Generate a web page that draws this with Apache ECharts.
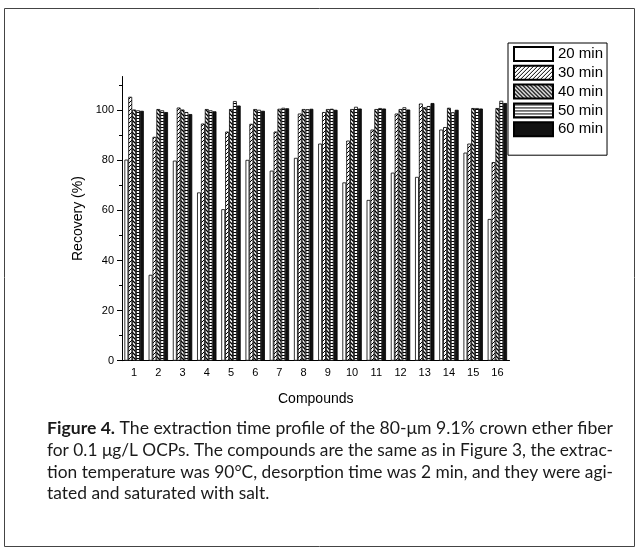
<!DOCTYPE html>
<html>
<head>
<meta charset="utf-8">
<script src="https://cdn.jsdelivr.net/npm/echarts@6/dist/echarts.min.js"></script>
<style>
html,body{margin:0;padding:0;background:#fff;}
#chart{width:639px;height:552px;}
</style>
</head>
<body>
<div id="chart"></div>
<script>
// ---- data ----
const compounds = ['1','2','3','4','5','6','7','8','9','10','11','12','13','14','15','16'];
const seriesNames = ['20 min','30 min','40 min','50 min','60 min'];
const t20 = [80.3, 34.3, 79.9, 67.2, 60.5, 80.2, 75.9, 81.0, 86.7, 71.2, 64.2, 75.1, 73.4, 92.3, 83.1, 56.6];
const t30 = [105.4, 89.4, 101.1, 94.7, 91.5, 94.6, 91.5, 98.7, 99.3, 87.9, 92.3, 98.7, 102.7, 93.3, 86.7, 79.3];
const t40 = [100.3, 100.5, 100.3, 100.5, 100.5, 100.5, 100.6, 100.5, 100.5, 100.5, 100.5, 100.5, 101.2, 101.0, 100.9, 100.9];
const t50 = [100.0, 100.0, 99.3, 100.0, 103.7, 100.2, 101.0, 100.4, 100.6, 101.4, 100.9, 101.2, 101.7, 99.2, 100.9, 103.8];
const t60 = [99.8, 99.3, 98.5, 99.6, 101.9, 99.8, 100.8, 100.6, 100.2, 100.7, 100.7, 100.3, 102.9, 100.2, 100.7, 102.9];
const majorTicks = [0, 20, 40, 60, 80, 100];
const minorTicks = [10, 30, 50, 70, 90, 110];
const captionBold = 'Figure 4.';
const captionLines = [
  ' The extraction time profile of the 80-\u03bcm 9.1% crown ether fiber',
  'for 0.1 \u03bcg/L OCPs. The compounds are the same as in Figure 3, the extrac-',
  'tion temperature was 90\u00b0C, desorption time was 2 min, and they were agi-',
  'tated and saturated with salt.'
];

// ---- patterns ----
function makePattern(kind) {
  const c = document.createElement('canvas');
  const s = kind === '-' ? 3 : 4;
  c.width = s; c.height = s;
  const g = c.getContext('2d');
  g.fillStyle = '#fff'; g.fillRect(0, 0, s, s);
  g.strokeStyle = '#000'; g.fillStyle = '#000'; g.lineWidth = 1;
  if (kind === '/') {
    g.beginPath();
    g.moveTo(0, s); g.lineTo(s, 0);
    g.moveTo(-1, 1); g.lineTo(1, -1);
    g.moveTo(s - 1, s + 1); g.lineTo(s + 1, s - 1);
    g.stroke();
  } else if (kind === '\\') {
    g.lineWidth = 1.3;
    g.beginPath();
    g.moveTo(0, 0); g.lineTo(s, s);
    g.moveTo(-1, s - 1); g.lineTo(1, s + 1);
    g.moveTo(s - 1, -1); g.lineTo(s + 1, 1);
    g.stroke();
  } else if (kind === '-') {
    g.fillRect(0, 1, s, 1);
  }
  return { image: c, repeat: 'repeat' };
}
const fills = ['#ffffff', makePattern('/'), makePattern('\\'), makePattern('-'), '#111111'];
const values = [t20, t30, t40, t50, t60];

// ---- caption layout (justified by horizontal scaling) ----
const FS = 17, FF = 'Lato';
const mctx = document.createElement('canvas').getContext('2d');
function tw(t, bold) { mctx.font = (bold ? 'bold ' : '') + FS + 'px ' + FF; return mctx.measureText(t).width; }
const capLeft = 47, capRight = 613, capYs = [429, 451, 472.5, 494];
const capElems = [];
const scales = [];
captionLines.forEach((ln, i) => {
  let w = tw(ln, false) + (i === 0 ? tw(captionBold, true) : 0);
  scales.push((capRight - capLeft) / w);
});
const avgScale = (scales[0] + scales[1] + scales[2]) / 3;
captionLines.forEach((ln, i) => {
  const sc = i === 3 ? avgScale : scales[i];
  const children = [];
  let x = 0;
  if (i === 0) {
    children.push({ type: 'text', x: 0, y: 0, style: { text: captionBold, fontSize: FS, fontFamily: FF, fontWeight: 'bold', fill: '#1a1a1a', verticalAlign: 'middle' } });
    x = tw(captionBold, true);
  }
  children.push({ type: 'text', x: x, y: 0, style: { text: ln, fontSize: FS, fontFamily: FF, fill: '#1a1a1a', verticalAlign: 'middle' } });
  capElems.push({ type: 'group', x: capLeft, y: capYs[i], scaleX: sc, children: children });
});

const chart = echarts.init(document.getElementById('chart'), null, { renderer: 'canvas' });
const axisFont = 'Liberation Sans';
const option = {
  animation: false,
  backgroundColor: '#fff',
  grid: { left: 122, right: 129.5, top: 76.5, bottom: 191.3, containLabel: false },
  legend: {
    orient: 'vertical', left: 508, top: 43,
    itemWidth: 39, itemHeight: 14, itemGap: 2.8,
    padding: [3, 4, 18, 5],
    borderColor: '#000', borderWidth: 1,
    icon: 'rect',
    textStyle: { fontSize: 15, fontFamily: axisFont, color: '#000' },
    data: seriesNames
  },
  xAxis: [
    {
      type: 'category', data: compounds, position: 'bottom',
      axisLine: { lineStyle: { color: '#000', width: 1 } },
      axisTick: { alignWithLabel: true, length: 5, lineStyle: { color: '#000' } },
      axisLabel: { fontSize: 11, color: '#000', margin: 7, fontFamily: axisFont },
      name: 'Compounds', nameLocation: 'middle', nameGap: 31,
      nameTextStyle: { fontSize: 14, color: '#000', fontFamily: axisFont }
    },
    {
      type: 'category', data: compounds, position: 'bottom',
      axisLine: { show: false },
      axisTick: { length: 3, lineStyle: { color: '#000' } },
      axisLabel: { show: false }
    }
  ],
  yAxis: [
    {
      type: 'value', min: 0, max: 113.5, position: 'left',
      axisLine: { show: true, lineStyle: { color: '#000', width: 1 } },
      axisTick: { show: true, length: 5, customValues: majorTicks, lineStyle: { color: '#000' } },
      axisLabel: { customValues: majorTicks, fontSize: 11, color: '#000', margin: 8, fontFamily: axisFont },
      splitLine: { show: false },
      name: 'Recovery (%)', nameLocation: 'middle', nameGap: 36, nameRotate: 90,
      nameTextStyle: { fontSize: 14, color: '#000', fontFamily: axisFont }
    },
    {
      type: 'value', min: 0, max: 113.5, position: 'left', offset: 0,
      axisLine: { show: false },
      axisTick: { show: true, length: 3, customValues: minorTicks, lineStyle: { color: '#000' } },
      axisLabel: { show: false },
      splitLine: { show: false }
    }
  ],
  series: seriesNames.map((n, i) => ({
    name: n, type: 'bar', xAxisIndex: 0, yAxisIndex: 0,
    data: values[i],
    barCategoryGap: '20%', barGap: '0%',
    itemStyle: { color: fills[i], borderColor: '#000', borderWidth: 0.8 }
  })),
  graphic: [
    { type: 'rect', shape: { x: 4.5, y: 8.5, width: 630, height: 538 }, style: { fill: null, stroke: '#444', lineWidth: 1 } }
  ].concat(capElems)
};
chart.setOption(option);
</script>
</body>
</html>
